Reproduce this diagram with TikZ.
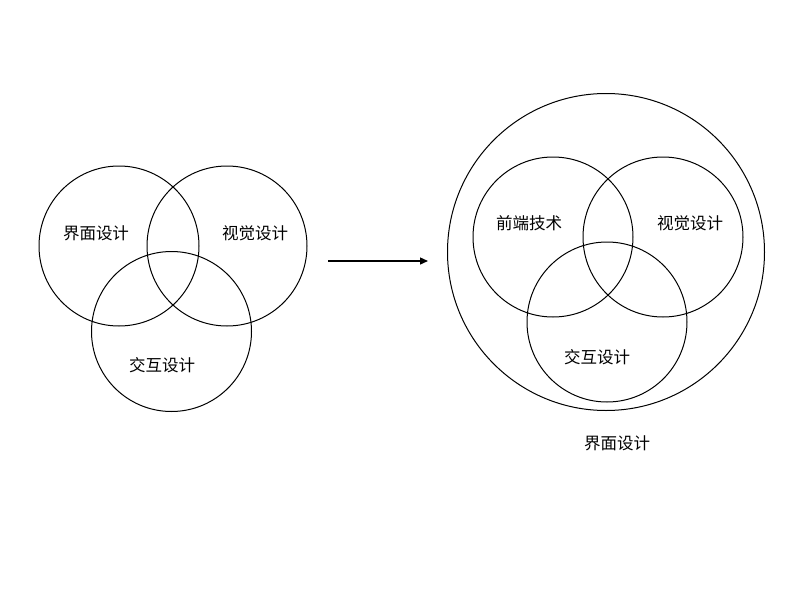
\documentclass[tikz,border=0pt]{standalone}
\usepackage{fontspec}
\newfontfamily\cjk{Noto Sans CJK SC}
\usepackage{tikz}
\usetikzlibrary{arrows.meta}

\begin{document}
\begin{tikzpicture}[x=1pt, y=-1pt, line width=1pt,
  lbl/.style={font=\cjk\fontsize{16.5}{19}\selectfont, inner sep=0pt}]
  \useasboundingbox (0,0) rectangle (804,600);

  % Left: three overlapping circles
  \draw (119, 246) circle (80);
  \draw (227, 246) circle (80);
  \draw (171.5, 331.5) circle (80);
  \node[lbl] (jm) at (96, 233) {界面设计};
  \node[lbl] (sj) at (255, 233) {视觉设计};
  \node[lbl] (jh) at (162, 365) {交互设计};

  % Arrow
  \coordinate (start) at (328, 261);
  \coordinate (end) at (428, 261);
  \draw[line width=1.4pt, -{Stealth[length=8pt, width=7pt, inset=0pt]}] (start) -- (end);

  % Right: big circle with three inner circles
  \draw (606, 252) circle (158.5);
  \draw (553, 237) circle (80);
  \draw (663, 237) circle (80);
  \draw (607, 322) circle (80);
  \node[lbl] (qd) at (529, 223) {前端技术};
  \node[lbl] (sj2) at (690, 223) {视觉设计};
  \node[lbl] (jh2) at (597, 357) {交互设计};
  \node[lbl] (jm2) at (617, 443) {界面设计};
\end{tikzpicture}
\end{document}
